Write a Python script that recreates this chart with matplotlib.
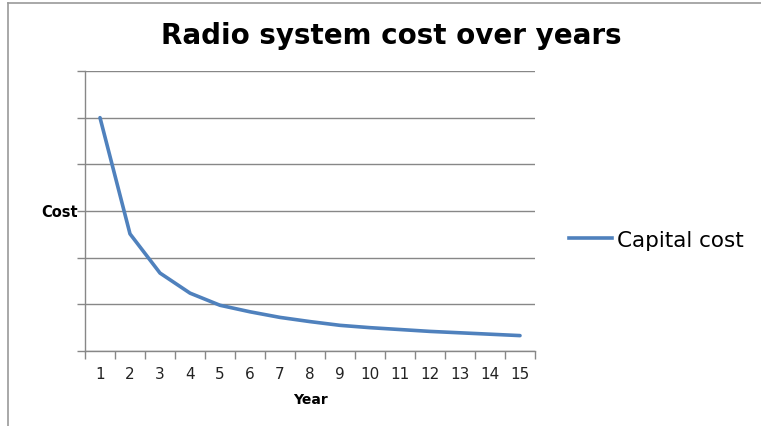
import matplotlib
matplotlib.use("Agg")
import matplotlib.pyplot as plt
from matplotlib.lines import Line2D

years = list(range(1, 16))
capital_cost = [5.0, 2.51, 1.67, 1.24, 0.98, 0.84, 0.72, 0.63, 0.55, 0.50, 0.46, 0.42, 0.39, 0.36, 0.33]
y_ticks = [0, 1, 2, 3, 4, 5, 6]

grey = "#878787"
blue = "#4F81BD"

fig = plt.figure(figsize=(7.61, 4.27), dpi=100)
ax = fig.add_axes([85 / 761, 75 / 427, 450 / 761, 280 / 427])

ax.plot(years, capital_cost, color=blue, lw=2.6, solid_capstyle="round", label="Capital cost")

ax.set_xlim(0.5, 15.5)
ax.set_ylim(0, 6)
ax.set_yticks(y_ticks)
ax.set_yticklabels([])
ax.yaxis.grid(True, color=grey, lw=1)
ax.set_axisbelow(True)

# category axis: ticks sit between categories
ax.set_xticks([x + 0.5 for x in [0] + years], minor=False)
ax.set_xticklabels([])
ax.set_xticks(years, minor=True)
ax.set_xticklabels([str(y) for y in years], minor=True, fontsize=11, family="DejaVu Sans", color="#222222")
ax.tick_params(axis="x", which="major", length=6, color=grey, width=1, direction="out")
ax.tick_params(axis="x", which="minor", length=0, pad=11)
ax.tick_params(axis="y", length=6, color=grey, width=1, direction="out")

for s in ["top", "right"]:
    ax.spines[s].set_visible(False)
for s in ["left", "bottom"]:
    ax.spines[s].set_color(grey)
    ax.spines[s].set_linewidth(1)

ax.set_xlabel("Year", fontsize=10, fontweight="bold", family="DejaVu Sans", labelpad=8)
fig.text(78 / 761, 1 - 213 / 427, "Cost", ha="right", va="center",
         fontsize=10.5, fontweight="bold", family="DejaVu Sans")

fig.text(391 / 761, 1 - 36 / 427, "Radio system cost over years", ha="center", va="center",
         fontsize=20, fontweight="bold", family="DejaVu Sans")

leg = fig.legend(handles=[Line2D([0], [0], color=blue, lw=2.6)], labels=["Capital cost"],
                 loc="center left", bbox_to_anchor=(550 / 761, 1 - 241 / 427), frameon=False,
                 prop={"family": "DejaVu Sans", "size": 15.5}, handlelength=2.0, handletextpad=0.2)

# outer chart frame (partially visible in the reference)
fig.add_artist(Line2D([8 / 761, 1], [1 - 4 / 427, 1 - 4 / 427], transform=fig.transFigure, color="#9a9a9a", lw=1.2))
fig.add_artist(Line2D([8 / 761, 8 / 761], [0, 1 - 4 / 427], transform=fig.transFigure, color="#9a9a9a", lw=1.2))

fig.savefig("out.png", dpi=100)
